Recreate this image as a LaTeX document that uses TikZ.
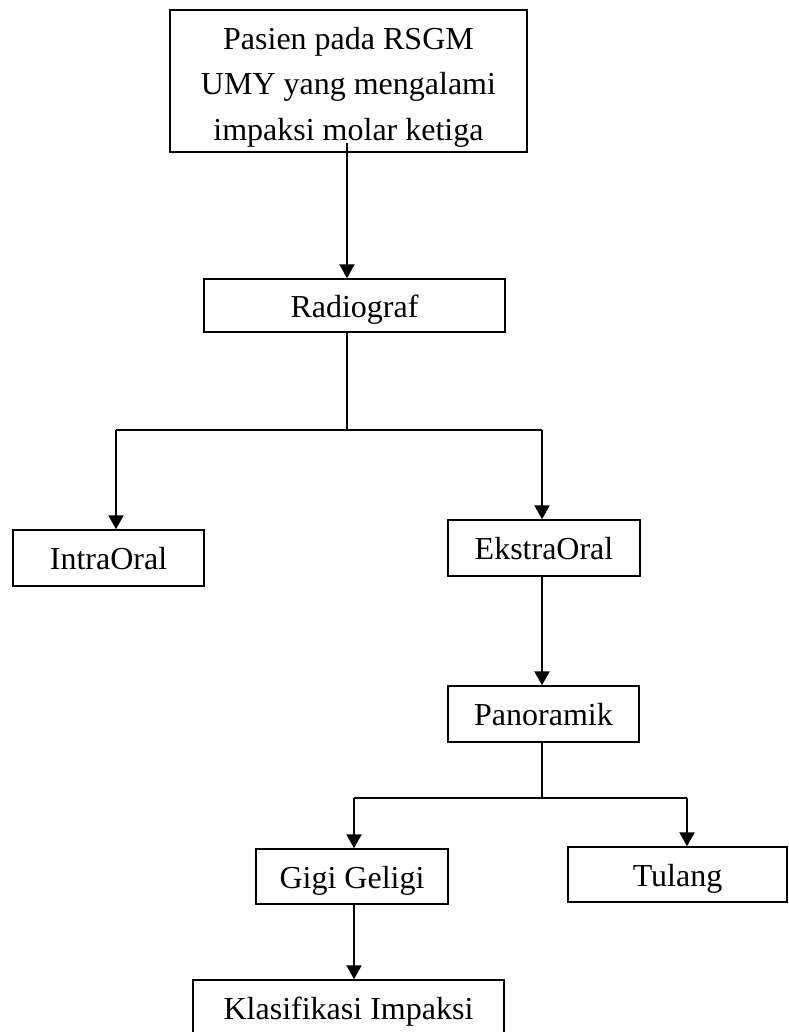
\documentclass[tikz,border=0pt]{standalone}
\usepackage{fontspec}
\setmainfont{Liberation Serif}
\usetikzlibrary{arrows.meta}
\begin{document}
\begin{tikzpicture}[x=1pt,y=1pt,
  box/.style={draw=black, line width=1.5pt, rectangle, inner sep=0pt,
    font=\fontsize{32}{45.5}\selectfont, text height=26pt, text depth=3pt},
  plain/.style={line width=1.4pt},
  arr/.style={line width=2.3pt, -{Triangle[length=14pt,width=15pt]}}]
\useasboundingbox (0,0) rectangle (788,-1032);
% boxes
\node[box, minimum width=357pt, minimum height=142pt] (top) at (348.5,-81) {};
\node[font=\fontsize{32}{45.5}\selectfont, align=center, inner sep=0pt] (toptext) at (348.5,-87)
  {Pasien pada RSGM\\UMY yang mengalami\\impaksi molar ketiga};
\node[box, minimum width=301pt, minimum height=53pt] (radio) at (354.5,-305.5) {Radiograf};
\node[box, minimum width=191pt, minimum height=56pt] (intra) at (108.5,-558) {IntraOral};
\node[box, minimum width=192pt, minimum height=56pt] (ekstra) at (544,-548) {EkstraOral};
\node[box, minimum width=191pt, minimum height=56pt] (pano) at (543.5,-714) {Panoramik};
\node[box, minimum width=192pt, minimum height=55pt] (gigi) at (352,-876.5) {Gigi Geligi};
\node[box, minimum width=219pt, minimum height=55pt] (tulang) at (677.5,-874.5) {Tulang};
\node[box, minimum width=311pt, minimum height=56pt] (klas) at (348.5,-1008) {Klasifikasi Impaksi};
% junction coordinates
\coordinate (s0) at (347,-143);
\coordinate (j1) at (347,-430);
\coordinate (l1) at (116,-430);
\coordinate (r1) at (542,-430);
\coordinate (j2) at (542,-798);
\coordinate (l2) at (354,-798);
\coordinate (r2) at (687,-798);
% connectors
\draw[arr] (s0) -- (s0 |- radio.north);
\draw[plain] (j1 |- radio.south) -- (j1);
\draw[plain] (l1) -- (r1);
\draw[arr] (l1) -- (l1 |- intra.north);
\draw[arr] (r1) -- (r1 |- ekstra.north);
\draw[arr] (r1 |- ekstra.south) -- (r1 |- pano.north);
\draw[plain] (j2 |- pano.south) -- (j2);
\draw[plain] (l2) -- (r2);
\draw[arr] (l2) -- (l2 |- gigi.north);
\draw[arr] (r2) -- (r2 |- tulang.north);
\draw[arr] (l2 |- gigi.south) -- (l2 |- klas.north);
\end{tikzpicture}
\end{document}
